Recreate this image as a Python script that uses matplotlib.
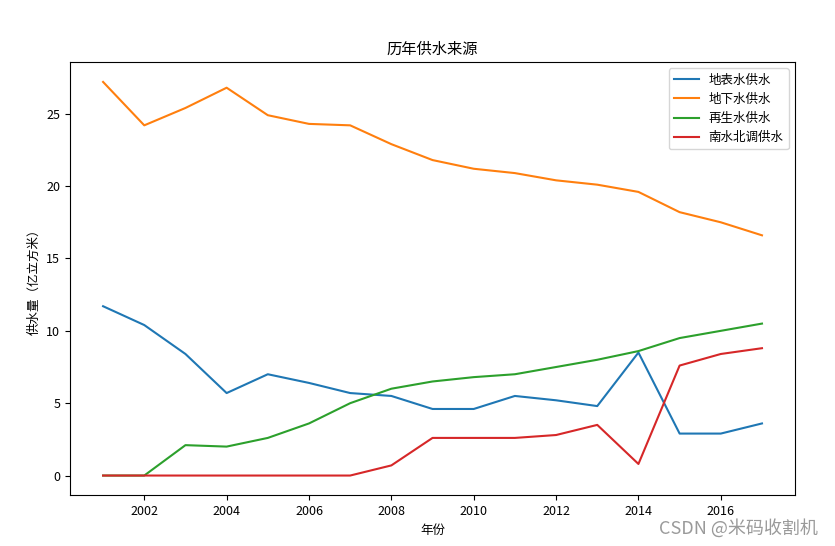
import matplotlib
matplotlib.use("Agg")
import matplotlib.pyplot as plt

plt.rcParams['font.family'] = ['Noto Sans CJK SC', 'DejaVu Sans']
plt.rcParams['axes.unicode_minus'] = False

years = list(range(2001, 2018))
surface = [11.7, 10.4, 8.4, 5.7, 7.0, 6.4, 5.7, 5.5, 4.6, 4.6, 5.5, 5.2, 4.8, 8.5, 2.9, 2.9, 3.6]
ground = [27.2, 24.2, 25.4, 26.8, 24.9, 24.3, 24.2, 22.9, 21.8, 21.2, 20.9, 20.4, 20.1, 19.6, 18.2, 17.5, 16.6]
recycled = [0, 0, 2.1, 2.0, 2.6, 3.6, 5.0, 6.0, 6.5, 6.8, 7.0, 7.5, 8.0, 8.6, 9.5, 10.0, 10.5]
transfer = [0, 0, 0, 0, 0, 0, 0, 0.7, 2.6, 2.6, 2.6, 2.8, 3.5, 0.8, 7.6, 8.4, 8.8]

fig = plt.figure(figsize=(8.35, 5.46), dpi=100)
ax = fig.add_axes([0.084, 0.093, 0.868, 0.793])

ax.plot(years, surface, label='地表水供水')
ax.plot(years, ground, label='地下水供水')
ax.plot(years, recycled, label='再生水供水')
ax.plot(years, transfer, label='南水北调供水')

ax.set_title('历年供水来源', fontsize=11)
ax.set_xlabel('年份', fontsize=9)
ax.set_ylabel('供水量（亿立方米）', fontsize=9)
ax.tick_params(labelsize=9)
ax.legend(loc='upper right', fontsize=9)

fig.text(0.98, 0.015, 'CSDN @米码收割机', ha='right', va='bottom',
         fontsize=13, color='#9a9a9a')

fig.savefig('out.png', dpi=100)
